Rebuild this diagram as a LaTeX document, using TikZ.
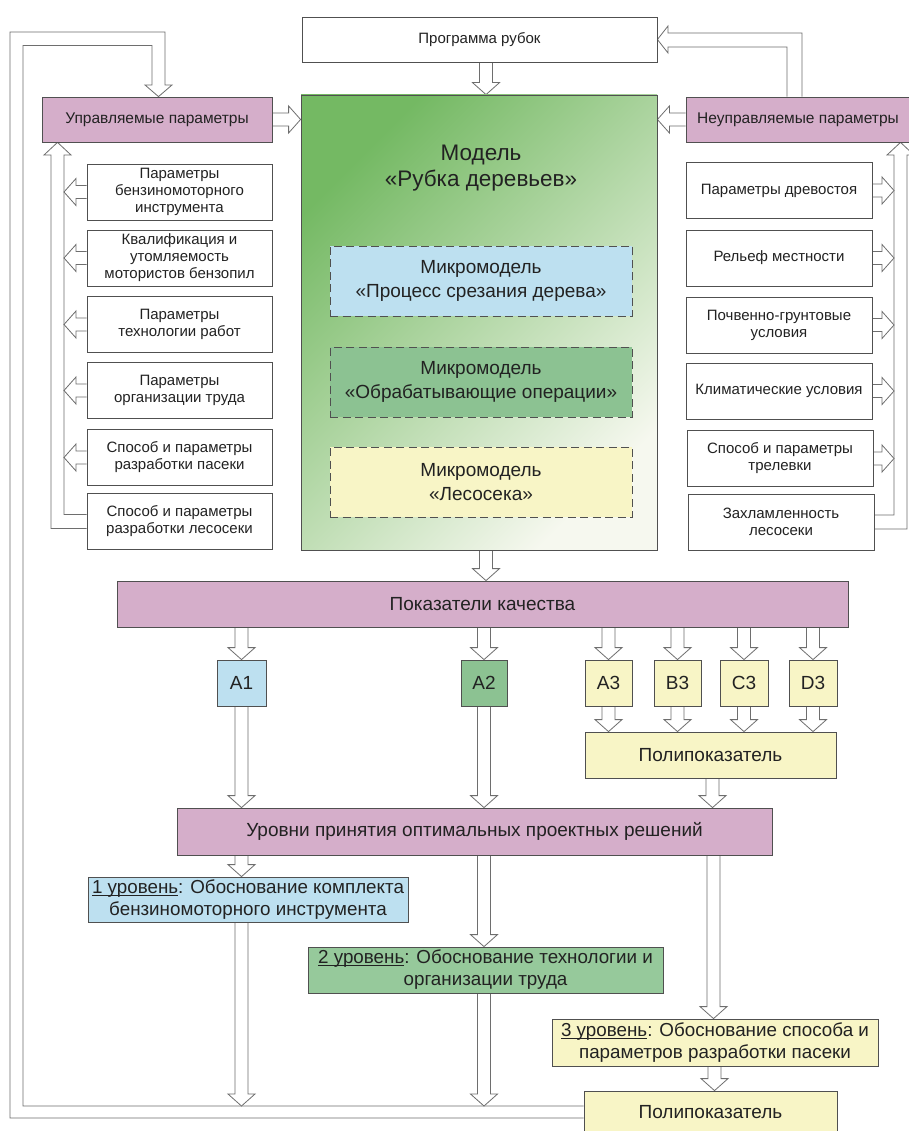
\documentclass[tikz,border=0pt]{standalone}
\usepackage{fontspec}
\setmainfont{Liberation Sans}
\usetikzlibrary{calc}
\definecolor{pinkc}{HTML}{D5AECA}
\definecolor{bluec}{HTML}{BDE0F0}
\definecolor{greenc}{HTML}{8CC292}
\definecolor{greenl}{HTML}{96C99B}
\definecolor{yellowc}{HTML}{F8F5C6}
\definecolor{linec}{HTML}{505050}
\definecolor{arrc}{HTML}{6E6E6E}
\definecolor{txtc}{HTML}{222222}
\definecolor{gA}{HTML}{74B963}
\definecolor{gB}{HTML}{BBDAA6}
\definecolor{gC}{HTML}{F6F8EF}
\pgfdeclarelayer{back}
\pgfdeclarelayer{bg}
\pgfsetlayers{back,bg,main}
\newcommand{\arSW}{6.5pt}
\newcommand{\arHW}{13.5pt}
\newcommand{\arHL}{12pt}
\newcommand{\ulin}[1]{\setbox0\hbox{#1}\rlap{\rule[-2.2pt]{\wd0}{0.7pt}}\box0}
\newcommand{\arrD}[2]{\filldraw[harrow] let \p1=(#1), \p2=(#2) in (\x1-\arSW,\y1) -- (\x1-\arSW,\y2+\arHL) -- (\x1-\arHW,\y2+\arHL) -- (\x1,\y2) -- (\x1+\arHW,\y2+\arHL) -- (\x1+\arSW,\y2+\arHL) -- (\x1+\arSW,\y1);}
\newcommand{\arrR}[2]{\filldraw[harrow] let \p1=(#1), \p2=(#2) in (\x1,\y1+\arSW) -- (\x2-\arHL,\y1+\arSW) -- (\x2-\arHL,\y1+\arHW) -- (\x2,\y1) -- (\x2-\arHL,\y1-\arHW) -- (\x2-\arHL,\y1-\arSW) -- (\x1,\y1-\arSW);}
\newcommand{\arrL}[2]{\filldraw[harrow] let \p1=(#1), \p2=(#2) in (\x1,\y1+\arSW) -- (\x2+\arHL,\y1+\arSW) -- (\x2+\arHL,\y1+\arHW) -- (\x2,\y1) -- (\x2+\arHL,\y1-\arHW) -- (\x2+\arHL,\y1-\arSW) -- (\x1,\y1-\arSW);}
\begin{document}
\begin{tikzpicture}[x=1pt,y=-1pt,
  bx/.style={draw=linec, line width=0.8pt, inner sep=0pt, align=center, text=txtc, font=\fontsize{15}{17}\selectfont},
  wbx/.style={bx, fill=white},
  pbx/.style={bx, fill=pinkc},
  dbx/.style={bx, dashed, dash pattern=on 8pt off 4.5pt, minimum width=302pt, minimum height=70pt, font=\fontsize{19}{24}\selectfont},
  lbx/.style={wbx, minimum width=185pt, minimum height=56pt},
  rbx/.style={wbx, minimum width=186pt, minimum height=56pt},
  abx/.style={bx, minimum height=46pt, font=\fontsize{19}{22}\selectfont},
  levbx/.style={bx, font=\fontsize{18.8}{22}\selectfont},
  harrow/.style={draw=arrc, fill=white, line width=0.8pt, line join=miter}]
\useasboundingbox (0,0) rectangle (908,1131);
\begin{pgfonlayer}{back}
\fill[white] (0,0) rectangle (908,1131);
\end{pgfonlayer}

% top
\node[wbx, minimum width=355pt, minimum height=45pt] (prog) at (479.5,39.5) {Программа рубок};
\node[bx, minimum width=356pt, minimum height=455pt, top color=gA, middle color=gB, bottom color=gC, shading angle=45] (model) at (479,322.5) {};
\node[font=\fontsize{22.5}{26}\selectfont, align=center, text=txtc] (mtitle) at (481,168.5) {Модель\\«Рубка деревьев»};
\node[dbx, fill=bluec] (m1) at (481,281) {Микромодель\\«Процесс срезания дерева»};
\node[dbx, fill=greenc] (m2) at (481,382) {Микромодель\\«Обрабатывающие операции»};
\node[dbx, fill=yellowc] (m3) at (481,482) {Микромодель\\«Лесосека»};

% left column
\node[pbx, minimum width=230pt, minimum height=45pt, font=\fontsize{15.5}{17}\selectfont] (upr) at (157,119.5) {Управляемые параметры};
\node[lbx] (L1) at (179.5,192) {Параметры\\бензиномоторного\\инструмента};
\node[lbx] (L2) at (179.5,258) {Квалификация и\\утомляемость\\мотористов бензопил};
\node[lbx] (L3) at (179.5,324.5) {Параметры\\технологии работ};
\node[lbx] (L4) at (179.5,390.5) {Параметры\\организации труда};
\node[lbx] (L5) at (179.5,457.5) {Способ и параметры\\разработки пасеки};
\node[lbx] (L6) at (179.5,521.5) {Способ и параметры\\разработки лесосеки};

% right column
\node[pbx, minimum width=224pt, minimum height=45pt, font=\fontsize{15.5}{17}\selectfont] (neupr) at (798,119.5) {Неуправляемые параметры};
\node[rbx] (R1) at (779,190.5) {Параметры древостоя};
\node[rbx] (R2) at (779,258) {Рельеф местности};
\node[rbx] (R3) at (779,325) {Почвенно-грунтовые\\условия};
\node[rbx] (R4) at (779,391) {Климатические условия};
\node[rbx] (R5) at (780,458.5) {Способ и параметры\\трелевки};
\node[rbx] (R6) at (781,522) {Захламленность\\лесосеки};

% quality
\node[pbx, minimum width=731pt, minimum height=46pt, font=\fontsize{19}{22}\selectfont] (pok) at (482.5,604) {Показатели качества};
\node[abx, fill=bluec, minimum width=49pt] (A1) at (241.5,683) {A1};
\node[abx, fill=greenc, minimum width=46pt] (A2) at (484,683) {A2};
\node[abx, fill=yellowc, minimum width=47pt] (A3) at (608.5,683) {A3};
\node[abx, fill=yellowc, minimum width=47pt] (B3) at (677.5,683) {B3};
\node[abx, fill=yellowc, minimum width=48pt] (C3) at (744,683) {C3};
\node[abx, fill=yellowc, minimum width=48pt] (D3) at (813,683) {D3};
\node[bx, fill=yellowc, minimum width=251pt, minimum height=46pt, font=\fontsize{19}{22}\selectfont] (poly1) at (710.5,755) {Полипоказатель};

% levels
\node[pbx, minimum width=595pt, minimum height=47pt, font=\fontsize{19}{22}\selectfont] (lev) at (474.5,831.5) {Уровни принятия оптимальных проектных решений};
\node[levbx, fill=bluec, minimum width=320pt, minimum height=45pt] (lv1) at (248,899.5) {\ulin{1 уровень}: Обоснование комплекта\\бензиномоторного инструмента};
\node[levbx, fill=greenl, minimum width=355pt, minimum height=46pt] (lv2) at (485.5,970) {\ulin{2 уровень}: Обоснование технологии и\\организации труда};
\node[levbx, fill=yellowc, minimum width=326pt, minimum height=47pt] (lv3) at (715,1042.5) {\ulin{3 уровень}: Обоснование способа и\\параметров разработки пасеки};
\node[bx, fill=yellowc, minimum width=253pt, minimum height=42pt, font=\fontsize{19}{22}\selectfont] (poly2) at (710.5,1112) {Полипоказатель};

\coordinate (lin) at (64,150);
\coordinate (rin) at (894,150);
\coordinate (fbin) at ([yshift=6pt]poly2.west);

\begin{pgfonlayer}{bg}
% feedback loops
\filldraw[harrow] ([yshift=-6pt]poly2.west) -- (10,1118) -- (10,32) -- (165,32) -- (165,85) -- (172,85) -- ([xshift=1.5pt]upr.north) -- (145,85) -- (152,85) -- (152,45.5) -- (23,45.5) -- (23,1106) -- (fbin);
\filldraw[harrow] ([xshift=-11pt]neupr.north) -- (787,47) -- (668,47) -- (668,53) -- (prog.east) -- (668,26) -- (668,33) -- (802,33) -- ([xshift=4pt]neupr.north);
\filldraw[harrow] ([yshift=7pt]L6.west) -- (64,514.5) -- (64,155) -- (71,155) -- ([xshift=-99.5pt]upr.south) -- (44,155) -- (51,155) -- (51,528.5) -- ([yshift=-7pt]L6.west);
\filldraw[harrow] ([yshift=7pt]R6.east) -- (894,515) -- (894,155) -- (887,155) -- ([xshift=102.5pt]neupr.south) -- (914,155) -- (907,155) -- (907,529) -- ([yshift=-7pt]R6.east);
% side arrows
\arrL{L1.west}{lin}
\arrL{L2.west}{lin}
\arrL{L3.west}{lin}
\arrL{L4.west}{lin}
\arrL{L5.west}{lin}
\arrR{R1.east}{rin}
\arrR{R2.east}{rin}
\arrR{R3.east}{rin}
\arrR{R4.east}{rin}
\arrR{R5.east}{rin}
\arrR{upr.east}{model.west}
\arrL{neupr.west}{model.east}
% vertical arrows
\arrD{[xshift=6.5pt]prog.south}{model.north}
\arrD{[xshift=7pt]model.south}{pok.north}
\arrD{A1.north |- pok.south}{A1.north}
\arrD{A2.north |- pok.south}{A2.north}
\arrD{A3.north |- pok.south}{A3.north}
\arrD{B3.north |- pok.south}{B3.north}
\arrD{C3.north |- pok.south}{C3.north}
\arrD{D3.north |- pok.south}{D3.north}
\arrD{A3.south}{poly1.north}
\arrD{B3.south}{poly1.north}
\arrD{C3.south}{poly1.north}
\arrD{D3.south}{poly1.north}
\arrD{[xshift=2pt]poly1.south}{lev.north}
\arrD{A1.south}{lev.north}
\arrD{A2.south}{lev.north}
\arrD{A1.south |- lev.south}{lv1.north}
\arrD{A2.south |- lev.south}{lv2.north}
\arrD{[xshift=3pt]poly1.south |- lev.south}{lv3.north}
\arrD{[xshift=4pt]poly1.south |- lv3.south}{poly2.north}
\arrD{A1.south |- lv1.south}{fbin}
\arrD{A2.south |- lv2.south}{fbin}
\end{pgfonlayer}
\end{tikzpicture}
\end{document}
